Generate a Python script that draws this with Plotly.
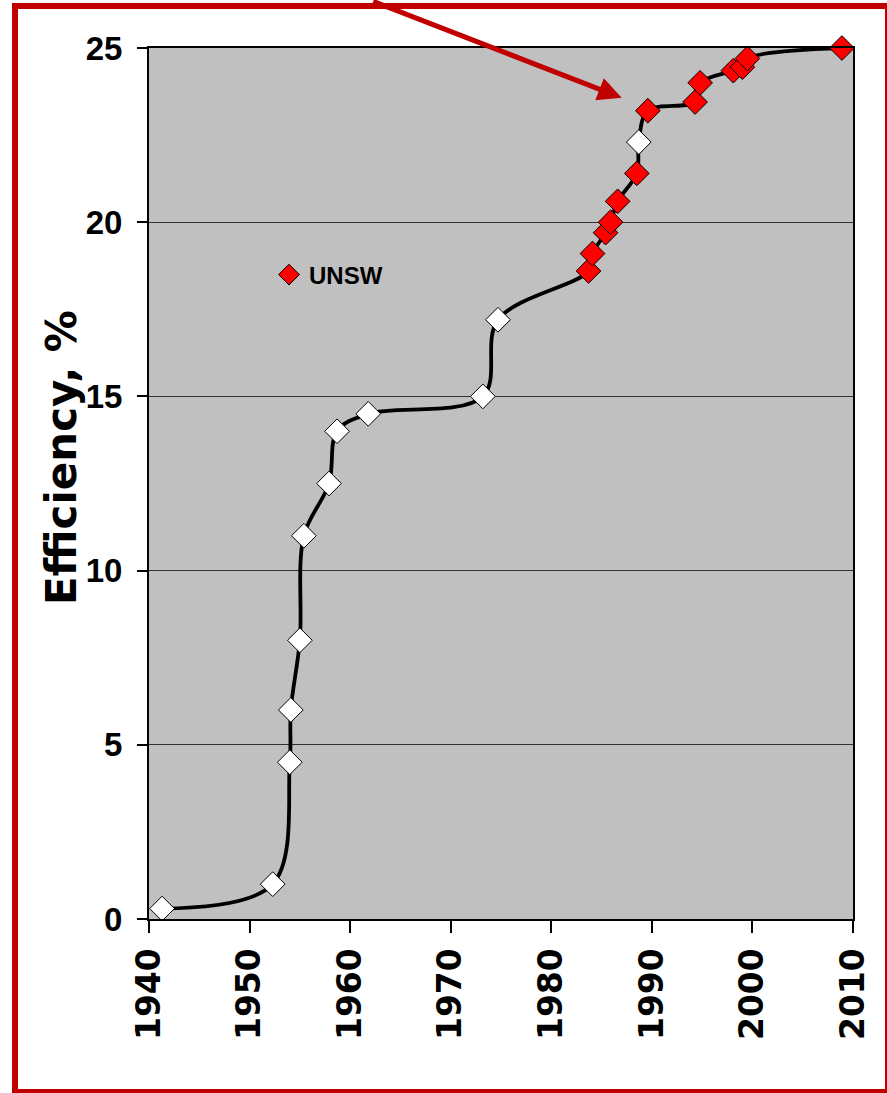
import plotly.graph_objects as go

# ---- data ----
other_years = [1941.3, 1952.3, 1954.0, 1954.1, 1955.0, 1955.4, 1957.9, 1958.7, 1961.8, 1973.2, 1974.7, 1988.7]
other_eff = [0.3, 1.0, 4.5, 6.0, 8.0, 11.0, 12.5, 14.0, 14.5, 15.0, 17.2, 22.3]

unsw_years = [1983.7, 1984.1, 1985.4, 1985.9, 1986.6, 1988.5, 1989.6, 1994.3, 1994.8, 1998.1, 1999.0, 1999.5, 2008.9]
unsw_eff = [18.6, 19.1, 19.7, 20.0, 20.6, 21.4, 23.2, 23.45, 24.0, 24.35, 24.45, 24.7, 25.0]

x_ticks = [1940, 1950, 1960, 1970, 1980, 1990, 2000, 2010]
y_ticks = [0, 5, 10, 15, 20, 25]

legend_name = "UNSW"
y_title = "Efficiency, %"

# combined record curve (sorted by year)
pts = sorted(zip(other_years + unsw_years, other_eff + unsw_eff))
curve_x = [p[0] for p in pts]
curve_y = [p[1] for p in pts]

W, H = 887, 1093
ML, MR, MT, MB = 149, 34, 48, 174
PW, PH = W - ML - MR, H - MT - MB

def px2paper_x(px):
    return (px - ML) / PW

def px2paper_y(py):
    return (H - MB - py) / PH

RED = "#C00000"
BOLD_SANS = "Liberation Sans, Arial, sans-serif"

fig = go.Figure()

fig.add_trace(go.Scatter(
    x=curve_x, y=curve_y, mode="lines",
    line=dict(color="black", width=3.8, shape="spline", smoothing=1.0),
    showlegend=False, hoverinfo="skip", cliponaxis=False,
))

fig.add_trace(go.Scatter(
    x=other_years, y=other_eff, mode="markers",
    marker=dict(symbol="diamond", size=19, color="white", line=dict(color="black", width=1)),
    showlegend=False, cliponaxis=False,
))

fig.add_trace(go.Scatter(
    x=unsw_years, y=unsw_eff, mode="markers", name=legend_name,
    marker=dict(symbol="diamond", size=19, color="#FF0000", line=dict(color="black", width=1)),
    showlegend=True, cliponaxis=False,
))

fig.update_layout(
    width=W, height=H,
    margin=dict(l=ML, r=MR, t=MT, b=MB, autoexpand=False),
    paper_bgcolor="white",
    plot_bgcolor="#C0C0C0",
    font=dict(family=BOLD_SANS, color="black"),
    showlegend=True,
    legend=dict(
        x=px2paper_x(269), y=px2paper_y(275), xanchor="left", yanchor="middle",
        bgcolor="rgba(0,0,0,0)", borderwidth=0, itemwidth=30,
        font=dict(family=BOLD_SANS, size=24, weight="bold", color="black"),
    ),
    xaxis=dict(
        range=[1940, 2010], tickvals=x_ticks, ticktext=[str(v) for v in x_ticks],
        tickangle=-90, ticks="outside", ticklen=12, tickwidth=2, tickcolor="black",
        showline=True, linewidth=2, linecolor="black", mirror=True,
        showgrid=False, zeroline=False, automargin=False,
        tickfont=dict(family="DejaVu Sans, sans-serif", size=33, weight="bold", color="black"),
        ticklabelstandoff=2,
    ),
    yaxis=dict(
        range=[0, 25], tickvals=y_ticks, ticktext=[str(v) for v in y_ticks],
        ticks="outside", ticklen=10, tickwidth=2, tickcolor="black",
        showline=True, linewidth=2, linecolor="black", mirror=True,
        showgrid=True, gridcolor="#303030", gridwidth=1, zeroline=False, automargin=False,
        tickfont=dict(family=BOLD_SANS, size=33, weight="bold", color="black"),
        ticklabelstandoff=8,
    ),
    shapes=[dict(
        type="rect", xref="paper", yref="paper",
        x0=px2paper_x(15), x1=px2paper_x(888), y0=px2paper_y(1092), y1=px2paper_y(6),
        line=dict(color=RED, width=6), fillcolor="rgba(0,0,0,0)", layer="above",
    )],
    annotations=[
        dict(
            x=1987.0, y=23.57, xref="x", yref="y", text="", showarrow=True,
            ax=-250, ay=-97, arrowcolor=RED, arrowwidth=5, arrowhead=2, arrowsize=0.95,
            standoff=0, startstandoff=0,
        ),
        dict(
            x=px2paper_x(62), y=px2paper_y(458), xref="paper", yref="paper",
            xanchor="center", yanchor="middle", text=y_title, textangle=-90,
            showarrow=False,
            font=dict(family="DejaVu Sans, sans-serif", size=42, weight="bold", color="black"),
        ),
    ],
)

fig.write_html("out.html", config={"displayModeBar": False},
               post_script="document.body.style.margin='0';")
